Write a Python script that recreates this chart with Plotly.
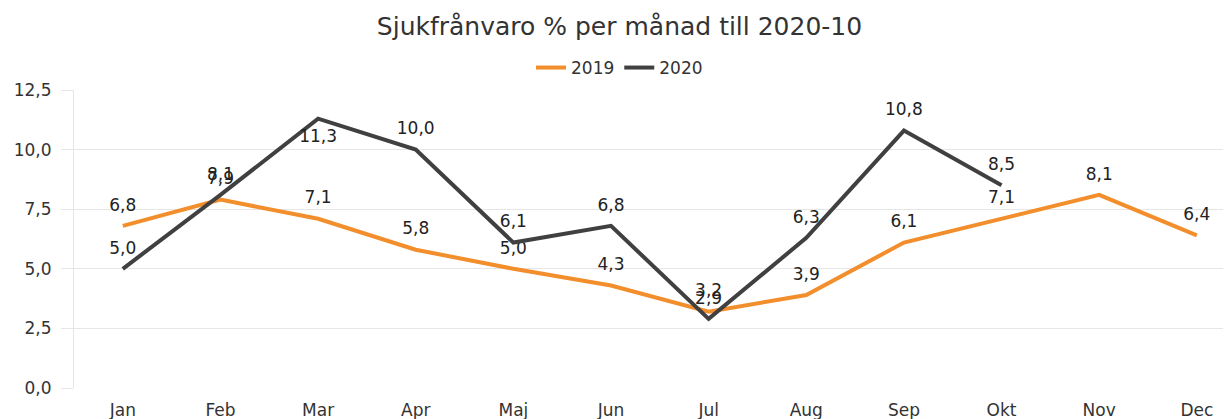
import plotly.graph_objects as go

months = ["Jan", "Feb", "Mar", "Apr", "Maj", "Jun", "Jul", "Aug", "Sep", "Okt", "Nov", "Dec"]
values_2019 = [6.8, 7.9, 7.1, 5.8, 5.0, 4.3, 3.2, 3.9, 6.1, 7.1, 8.1, 6.4]
values_2020 = [5.0, 8.1, 11.3, 10.0, 6.1, 6.8, 2.9, 6.3, 10.8, 8.5]
y_ticks = [0, 2.5, 5, 7.5, 10, 12.5]

FONT = "DejaVu Sans"
Y_MAX = 12.5
PAGE_OFFSET = 8  # default body margin of the html page (top/left)
W, H = 1231 - PAGE_OFFSET, 419 - PAGE_OFFSET
M_L, M_R, M_T, M_B = 74 - PAGE_OFFSET, 0, 90 - PAGE_OFFSET, 31


def positions(vals):
    # labels that would run into the top of the plot are put under the point
    return ["bottom center" if v > 11 else "top center" for v in vals]


def series(name, xs, ys, color):
    return go.Scatter(
        x=xs, y=ys, name=name, mode="lines+markers+text",
        line=dict(color=color, width=4),
        marker=dict(size=16, color="rgba(0,0,0,0)", line=dict(width=0)),
        texttemplate="%{y:.1f}",
        textposition=positions(ys),
        textfont=dict(family=FONT, size=17, color="#222"),
        cliponaxis=False,
    )


fig = go.Figure()
fig.add_trace(series("2019", months, values_2019, "#F28E2B"))
fig.add_trace(series("2020", months[:len(values_2020)], values_2020, "#404040"))

plot_h = H - M_T - M_B
fig.update_layout(
    width=W, height=H,
    margin=dict(l=M_L, r=M_R, t=M_T, b=M_B, autoexpand=False),
    paper_bgcolor="white", plot_bgcolor="white",
    separators=", ",
    font=dict(family=FONT, size=16, color="#333"),
    title=dict(text="Sjukfrånvaro % per månad till 2020-10", x=0.5, xanchor="center",
               xref="container", yref="container",
               y=1 - (26 - PAGE_OFFSET) / H, yanchor="middle",
               font=dict(family=FONT, size=25, color="#333")),
    legend=dict(orientation="h", x=0.5, xanchor="center", xref="container",
                y=(H - M_B - (68 - PAGE_OFFSET)) / plot_h, yanchor="middle",
                font=dict(family=FONT, size=17, color="#333"),
                itemwidth=30, tracegroupgap=0),
    showlegend=True,
)
fig.update_xaxes(
    type="category", categoryorder="array", categoryarray=months,
    range=[-0.5, 11.35], showgrid=False, showline=False, ticks="",
    ticklabelstandoff=10, automargin=False,
    tickfont=dict(family=FONT, size=17, color="#333"),
    fixedrange=True,
)
fig.update_yaxes(
    range=[0, Y_MAX], tickvals=y_ticks, tickformat=".1f",
    showgrid=True, gridcolor="#e6e6e6", gridwidth=1,
    showline=True, linecolor="#e6e6e6", linewidth=1,
    ticks="outside", ticklen=12, tickcolor="#e6e6e6",
    ticklabelstandoff=6, automargin=False,
    tickfont=dict(family=FONT, size=17, color="#333"),
    zeroline=False, fixedrange=True,
)

fig.write_html("out.html")
